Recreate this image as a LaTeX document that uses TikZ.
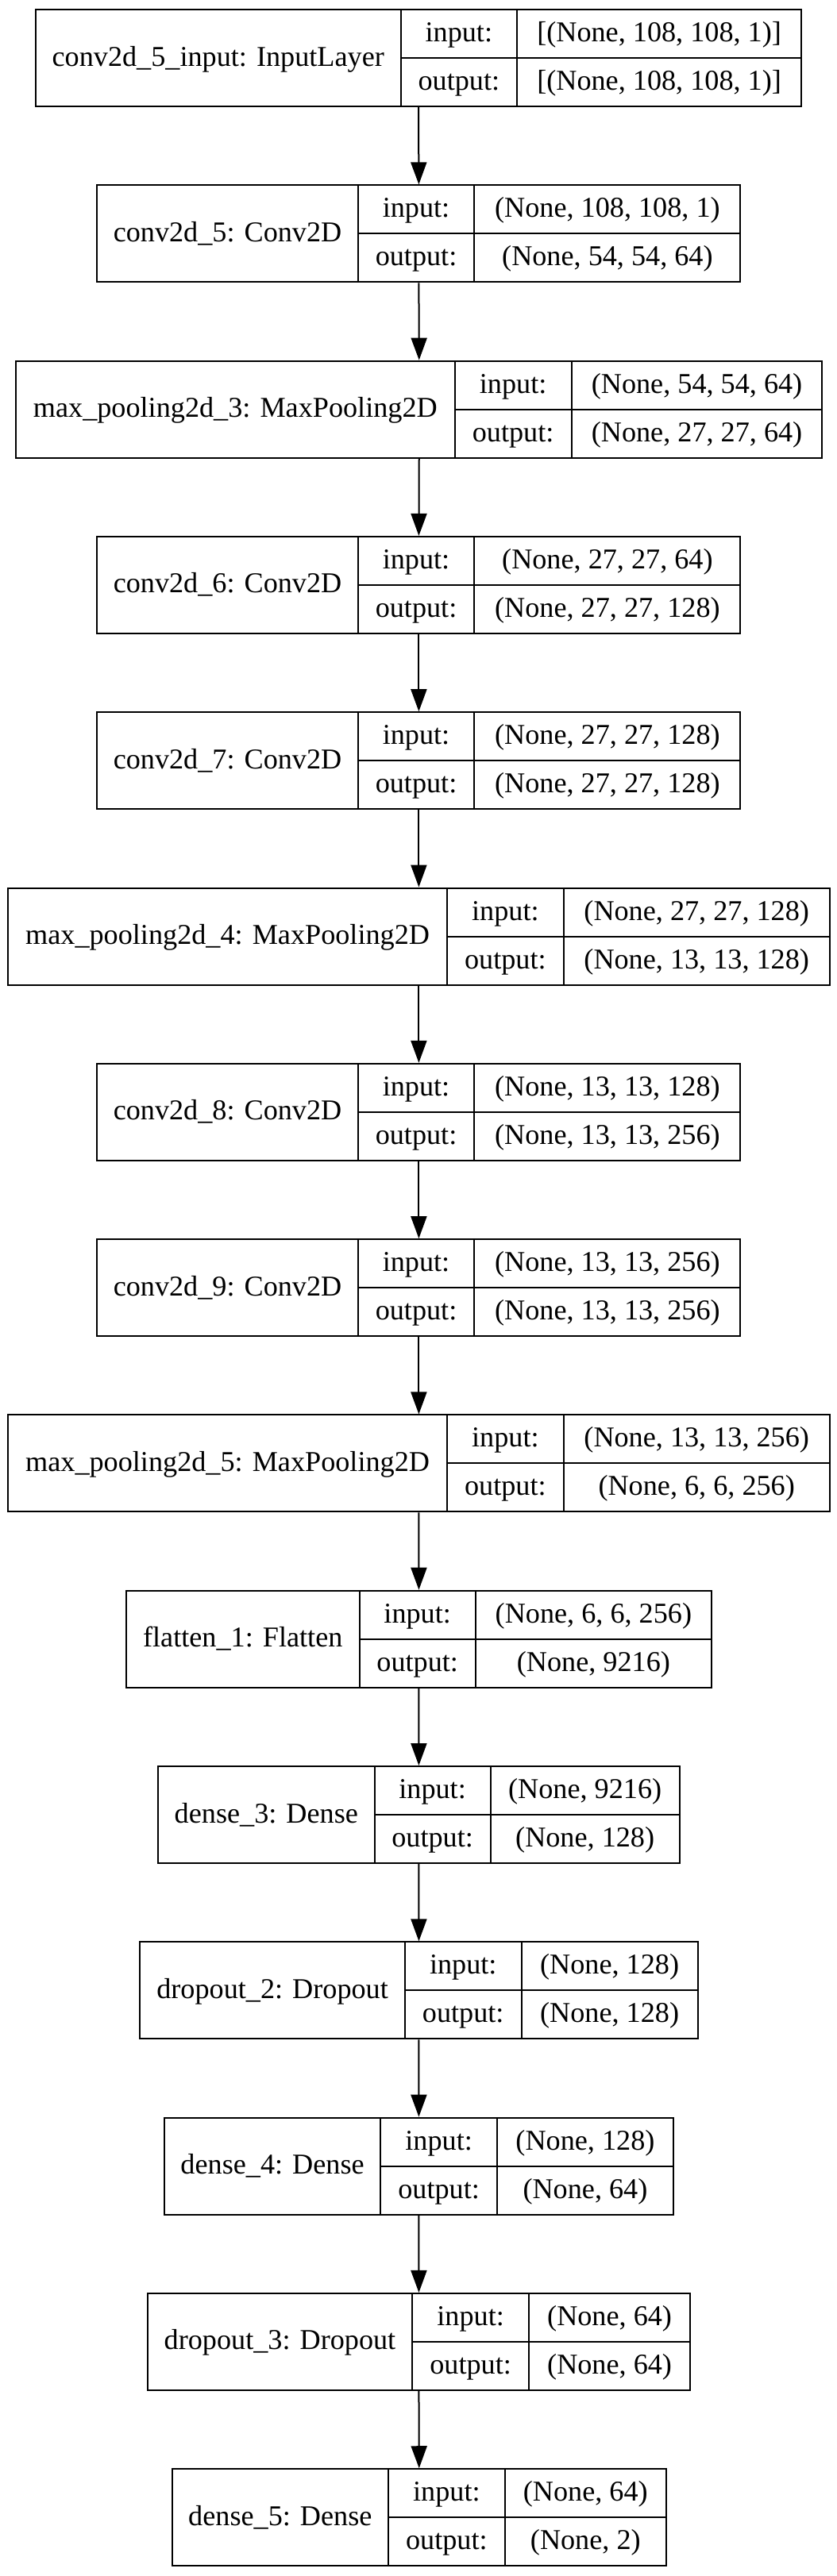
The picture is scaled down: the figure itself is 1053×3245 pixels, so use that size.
\documentclass[tikz,border=0pt]{standalone}
\usepackage{fontspec}
\setmainfont{Liberation Serif}
\usetikzlibrary{arrows.meta}
\newcommand{\lyr}[9]{%
  \pgfmathsetmacro{\LyT}{12+221.3*#2}%
  \pgfmathsetmacro{\LyB}{\LyT+122}%
  \pgfmathsetmacro{\LyM}{\LyT+61}%
  \pgfmathsetmacro{\LyC}{(#3+#6)/2}%
  \pgfmathsetmacro{\LyW}{#6-#3}%
  \node[layerbox, minimum width=\LyW pt] (#1) at (\LyC,\LyM) {};
  \draw[cellline] (#4,\LyT) -- (#4,\LyB) (#5,\LyT) -- (#5,\LyB) (#4,\LyM) -- (#6,\LyM);
  \node[txt] (#1-l) at ({(#3+#4)/2},\LyM) {#7};
  \node[txt] (#1-i) at ({(#4+#5)/2},{\LyT+30.5}) {input:};
  \node[txt] (#1-o) at ({(#4+#5)/2},{\LyT+91.5}) {output:};
  \node[txt] (#1-is) at ({(#5+#6)/2},{\LyT+30.5}) {#8};
  \node[txt] (#1-os) at ({(#5+#6)/2},{\LyT+91.5}) {#9};
}
\begin{document}
\begin{tikzpicture}[x=1pt,y=-1pt,
  layerbox/.style={draw=black, line width=2pt, fill=none, minimum height=122pt, inner sep=0pt},
  cellline/.style={draw=black, line width=2pt},
  txt/.style={inner sep=0pt, text height=25pt, text depth=5pt, font=\fontsize{36.2}{40}\selectfont},
  arr/.style={draw=black, line width=2pt, -{Triangle[length=28pt,width=20pt]}}]
\useasboundingbox[fill=white] (0,0) rectangle (1053,3245);
\lyr{b1}{0}{45}{504.5}{651.2}{1009}{conv2d\_5\_input: InputLayer}{[(None, 108, 108, 1)]}{[(None, 108, 108, 1)]}
\lyr{b2}{1}{122.4}{450.7}{597.4}{932.4}{conv2d\_5: Conv2D}{(None, 108, 108, 1)}{(None, 54, 54, 64)}
\lyr{b3}{2}{20.2}{572.5}{719.8}{1035.3}{max\_pooling2d\_3: MaxPooling2D}{(None, 54, 54, 64)}{(None, 27, 27, 64)}
\lyr{b4}{3}{122.4}{450.7}{597.4}{932.4}{conv2d\_6: Conv2D}{(None, 27, 27, 64)}{(None, 27, 27, 128)}
\lyr{b5}{4}{122.4}{450.7}{597.4}{932.4}{conv2d\_7: Conv2D}{(None, 27, 27, 128)}{(None, 27, 27, 128)}
\lyr{b6}{5}{10.1}{563.1}{709.7}{1044.7}{max\_pooling2d\_4: MaxPooling2D}{(None, 27, 27, 128)}{(None, 13, 13, 128)}
\lyr{b7}{6}{122.4}{450.7}{597.4}{932.4}{conv2d\_8: Conv2D}{(None, 13, 13, 128)}{(None, 13, 13, 256)}
\lyr{b8}{7}{122.4}{450.7}{597.4}{932.4}{conv2d\_9: Conv2D}{(None, 13, 13, 256)}{(None, 13, 13, 256)}
\lyr{b9}{8}{10.1}{563.1}{709.7}{1044.7}{max\_pooling2d\_5: MaxPooling2D}{(None, 13, 13, 256)}{(None, 6, 6, 256)}
\lyr{b10}{9}{158.8}{452.7}{598.7}{896.1}{flatten\_1: Flatten}{(None, 6, 6, 256)}{(None, 9216)}
\lyr{b11}{10}{199.1}{471.6}{617.6}{855.7}{dense\_3: Dense}{(None, 9216)}{(None, 128)}
\lyr{b12}{11}{176.3}{509.9}{656.6}{878.6}{dropout\_2: Dropout}{(None, 128)}{(None, 128)}
\lyr{b13}{12}{207.2}{479}{626.3}{847.6}{dense\_4: Dense}{(None, 128)}{(None, 64)}
\lyr{b14}{13}{185.7}{519.3}{666}{869.2}{dropout\_3: Dropout}{(None, 64)}{(None, 64)}
\lyr{b15}{14}{216.6}{489.1}{635.7}{838.9}{dense\_5: Dense}{(None, 64)}{(None, 2)}
\foreach \a/\b in {b1/b2,b2/b3,b3/b4,b4/b5,b5/b6,b6/b7,b7/b8,b8/b9,b9/b10,b10/b11,b11/b12,b12/b13,b13/b14,b14/b15}
  \draw[arr] (\a.south) -- (\b.north);
\end{tikzpicture}
\end{document}
